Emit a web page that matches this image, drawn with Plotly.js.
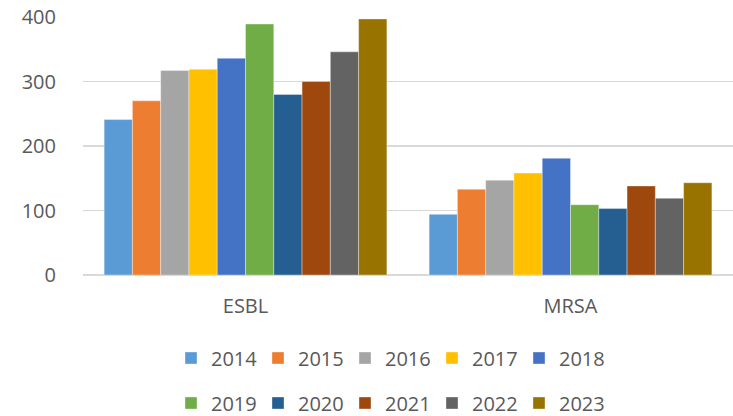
<!DOCTYPE html>
<html>
<head>
<meta charset="utf-8">
<script src="https://cdn.plot.ly/plotly-3.0.1.min.js"></script>
<style>html,body{margin:0;padding:0;background:#fff;}#chart{width:733px;height:416px;}</style>
</head>
<body>
<div id="chart"></div>
<script>
const categories = ["ESBL", "MRSA"];
const years = ["2014","2015","2016","2017","2018","2019","2020","2021","2022","2023"];
const esbl = [241, 270, 317, 319, 336, 389, 280, 300, 346, 397];
const mrsa = [94, 133, 147, 158, 181, 109, 103, 138, 119, 143];
const colors = ["#5B9BD5","#ED7D31","#A5A5A5","#FFC000","#4472C4","#70AD47","#255E91","#9E480E","#636363","#997300"];

const traces = years.map((y, i) => ({
  type: "bar",
  name: y,
  x: categories,
  y: [esbl[i], mrsa[i]],
  marker: {color: colors[i], line: {color: "rgba(255,255,255,0.6)", width: 0.6}},
  legend: i < 5 ? "legend" : "legend2",
  hoverinfo: "none"
}));

const font = {family: "Open Sans, Liberation Sans, sans-serif", size: 20, color: "#595959"};
const legendBase = {
  orientation: "h", xanchor: "center", yanchor: "middle", x: 0.47,
  yref: "container",
  font: font, bgcolor: "rgba(0,0,0,0)", itemwidth: 30, tracegroupgap: 0,
  entrywidth: 42, entrywidthmode: "pixels"
};

const layout = {
  width: 733, height: 416,
  margin: {l: 83, r: 0, t: 17, b: 141, autoexpand: false},
  paper_bgcolor: "#fff", plot_bgcolor: "#fff",
  font: font,
  barmode: "group", bargap: 0.13, bargroupgap: 0,
  showlegend: true,
  xaxis: {type: "category", automargin: false, showgrid: false, zeroline: false, showline: false, ticks: "", ticklabelstandoff: 17, tickfont: font},
  yaxis: {range: [0, 400], automargin: false, dtick: 100, tick0: 0, showgrid: true, gridcolor: "#D9D9D9", gridwidth: 1.3, zeroline: true, zerolinecolor: "#D9D9D9", zerolinewidth: 1.3, showline: false, ticks: "", ticklabelstandoff: 26, tickfont: font},
  legend: Object.assign({}, legendBase, {y: (416 - 358) / 416}),
  legend2: Object.assign({}, legendBase, {y: (416 - 403) / 416})
};

Plotly.newPlot("chart", traces, layout, {displayModeBar: false, staticPlot: true});
</script>
</body>
</html>
